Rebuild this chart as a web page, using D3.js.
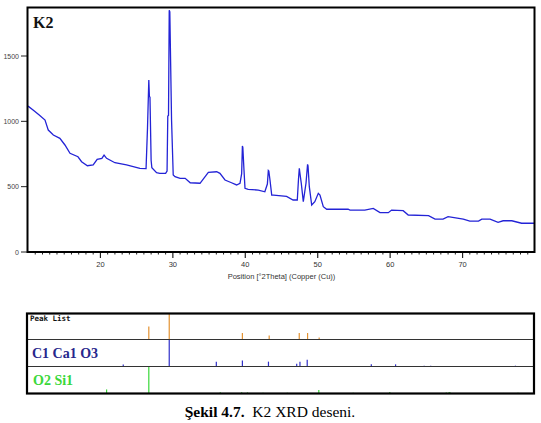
<!DOCTYPE html>
<html><head><meta charset="utf-8">
<script src="https://cdn.jsdelivr.net/npm/d3@7"></script>
<style>body{margin:0;background:#fff}svg{display:block}</style>
</head><body>
<svg id="c" width="541" height="423"></svg>
<script>
// ---- data ----
const twoTheta = [10.0,10.7,11.55,12.35,12.8,13.5,14.4,15.1,15.8,16.9,17.4,18.2,19.0,19.55,20.2,20.5,20.85,22.0,23.6,25.45,26.3,26.5,26.68,26.76,26.84,27.0,27.1,27.75,28.2,29.0,29.2,29.3,29.4,29.5,29.58,29.82,30.05,30.3,31.0,31.7,32.4,33.75,34.9,36.05,36.5,37.2,38.1,38.8,39.27,39.5,39.6,39.66,39.82,39.96,40.4,41.8,42.7,43.05,43.18,43.25,43.41,43.65,43.9,45.7,46.6,47.18,47.35,47.46,47.55,47.73,48.01,48.38,48.6,48.66,48.84,49.17,49.6,50.08,50.31,50.77,51.24,54.2,54.46,56.5,57.67,58.6,59.75,60.2,61.8,62.5,65.3,66.2,67.3,68.0,70.1,71.0,72.2,72.65,73.8,74.9,75.6,76.8,78.15,79.9];
const counts = [1117,1086,1048,1010,933,895,870,819,755,729,691,660,666,709,717,742,717,683,666,640,638,950,1316,1190,1185,700,645,607,602,602,620,1040,1045,1851,1838,1010,589,576,564,564,530,526,610,614,602,551,530,513,526,600,811,800,627,487,480,474,461,520,624,620,551,436,436,425,398,398,560,640,600,526,385,526,671,660,500,360,385,449,436,347,327,327,321,321,334,301,301,321,316,283,278,252,252,270,252,237,237,252,252,227,239,239,220,220];

const xTicks = [20,30,40,50,60,70];
const yTicks = [0,500,1000,1500];

const peakListPos = [26.68,29.5,39.6,43.3,47.45,48.6,50.2];
const peakListHt  = [50,100,25,15,25,25,8];
const calcitePos = [23.15,29.5,36.0,39.6,43.2,47.1,47.55,48.55,57.4,60.75,64.7,65.6,77.3];
const calciteHt  = [7,100,18,22,18,10,18,25,8,8,3,3,3];
const quartzPos = [20.85,26.68,36.55,39.5,40.3,42.45,45.8,50.15,54.9,59.95,64.0,67.75,68.15,68.3,73.5,75.65,77.65];
const quartzHt  = [15,100,5,5,4,3,3,13,3,6,2,4,6,4,2,2,3];

const sampleName = "K2";
const xTitle = "Position [°2Theta] (Copper (Cu))";
const rowLabels = ["Peak List","C1 Ca1 O3","O2 Si1"];

// ---- drawing ----
const svg = d3.select("#c");
const x = d3.scaleLinear().domain([10,80]).range([28,535]);
const y = d3.scaleLinear().domain([0,1875]).range([252,7]);

// main plot
svg.append("defs").append("clipPath").attr("id","clip")
  .append("rect").attr("x",28).attr("y",7).attr("width",507).attr("height",245);

const pts = twoTheta.map((t,i)=>[t,counts[i]]);
svg.append("path").datum(pts)
  .attr("clip-path","url(#clip)")
  .attr("fill","none").attr("stroke","#2323d6").attr("stroke-width",1.3)
  .attr("d", d3.line().x(d=>x(d[0])).y(d=>y(d[1])));

// x axis ticks
const minor = d3.range(11,80,1).filter(v=>v%10!==0);
svg.append("g").selectAll("line").data(minor).join("line")
  .attr("x1",d=>x(d)).attr("x2",d=>x(d)).attr("y1",252).attr("y2",254.5)
  .attr("stroke","#222").attr("stroke-width",1);
svg.append("g").selectAll("line").data(xTicks).join("line")
  .attr("x1",d=>x(d)).attr("x2",d=>x(d)).attr("y1",252).attr("y2",258)
  .attr("stroke","#222").attr("stroke-width",1.2);
svg.append("g").selectAll("text").data(xTicks).join("text")
  .attr("x",d=>x(d)).attr("y",267).attr("text-anchor","middle")
  .attr("font-family","Liberation Sans, Arial, sans-serif").attr("font-size",7.5).attr("fill","#333")
  .text(d=>d);
// y axis ticks
svg.append("g").selectAll("line").data(yTicks).join("line")
  .attr("x1",21).attr("x2",28).attr("y1",d=>y(d)).attr("y2",d=>y(d))
  .attr("stroke","#222").attr("stroke-width",1);
svg.append("g").selectAll("text").data(yTicks).join("text")
  .attr("x",19).attr("y",d=>y(d)+2.5).attr("text-anchor","end")
  .attr("font-family","Liberation Sans, Arial, sans-serif").attr("font-size",7).attr("fill","#444")
  .text(d=>d);

// frame
svg.append("rect").attr("x",27.5).attr("y",7.5).attr("width",507).attr("height",244.5)
  .attr("fill","none").attr("stroke","#000").attr("stroke-width",2);

svg.append("text").attr("x",33).attr("y",28)
  .attr("font-family","Liberation Serif, Times New Roman, serif").attr("font-weight","bold")
  .attr("font-size",16).attr("fill","#111").text(sampleName);

svg.append("text").attr("x",x(45)).attr("y",279).attr("text-anchor","middle")
  .attr("font-family","Liberation Sans, Arial, sans-serif").attr("font-size",7.5).attr("fill","#333")
  .text(xTitle);

// bottom stick panel
const rows = [
  {top:313.5, bot:339.5, pos:peakListPos, ht:peakListHt, color:"#e39232"},
  {top:339.5, bot:366.5, pos:calcitePos, ht:calciteHt, color:"#3030c8"},
  {top:366.5, bot:393.5, pos:quartzPos, ht:quartzHt, color:"#3ad83a"}
];
rows.forEach(r=>{
  const h = d3.scaleLinear().domain([0,100]).range([r.bot, r.top]);
  svg.append("g").selectAll("line").data(r.pos).join("line")
    .attr("x1",d=>x(d)).attr("x2",d=>x(d))
    .attr("y1",r.bot).attr("y2",(d,i)=>h(r.ht[i]))
    .attr("stroke",r.color).attr("stroke-width",1.2);
});
svg.append("line").attr("x1",27).attr("x2",534).attr("y1",339.5).attr("y2",339.5).attr("stroke","#333").attr("stroke-width",1);
svg.append("line").attr("x1",27).attr("x2",534).attr("y1",366.5).attr("y2",366.5).attr("stroke","#333").attr("stroke-width",1);
svg.append("rect").attr("x",27).attr("y",313.5).attr("width",507).attr("height",80)
  .attr("fill","none").attr("stroke","#000").attr("stroke-width",2.2);

svg.append("text").attr("x",30).attr("y",320.5)
  .attr("font-family","DejaVu Sans Mono, monospace").attr("font-weight","bold")
  .attr("font-size",7.5).attr("fill","#111").text(rowLabels[0]);
svg.append("text").attr("x",32).attr("y",358)
  .attr("font-family","Liberation Serif, Times New Roman, serif").attr("font-weight","bold")
  .attr("font-size",14).attr("fill","#27278c").text(rowLabels[1]);
svg.append("text").attr("x",33).attr("y",385)
  .attr("font-family","Liberation Serif, Times New Roman, serif").attr("font-weight","bold")
  .attr("font-size",14).attr("fill","#3ad83a").text(rowLabels[2]);

// caption
const cap = svg.append("text").attr("x",270).attr("y",417).attr("text-anchor","middle")
  .attr("font-family","Liberation Serif, Times New Roman, serif").attr("font-size",15.5).attr("fill","#000");
cap.append("tspan").attr("font-weight","bold").text("Şekil 4.7.");
cap.append("tspan").attr("xml:space","preserve").text("\u00a0 K2 XRD deseni.");
</script>
</body></html>
